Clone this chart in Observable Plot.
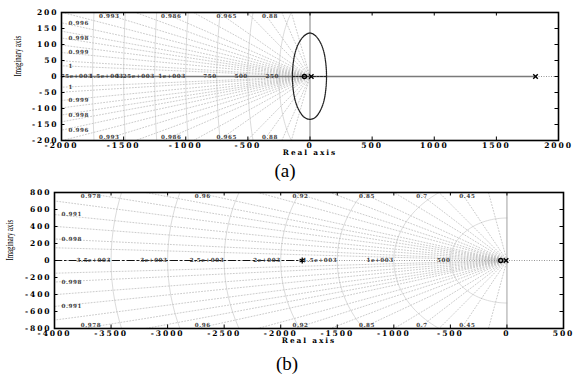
<!DOCTYPE html>
<html><head><meta charset="utf-8">
<script src="https://cdn.jsdelivr.net/npm/d3@7"></script>
<script src="https://cdn.jsdelivr.net/npm/@observablehq/plot@0.6"></script>
<style>
body{margin:0;background:#fff;}
#wrap{position:relative;width:574px;height:377px;overflow:hidden;background:#fff;}
.panel{position:absolute;left:0;}
.cap{position:absolute;left:0;width:574px;text-align:center;font-family:"Liberation Serif",serif;font-size:19px;line-height:19px;color:#000;}
</style>
</head><body><div id="wrap"></div>
<script>
// ---------- Panel (a) ----------
const xTicksA = [-2000, -1500, -1000, -500, 0, 500, 1000, 1500, 2000];
const yTicksA = [-200, -150, -100, -50, 0, 50, 100, 150, 200];
const wnA = [250, 500, 750, 1000, 1250, 1500, 1750];
const wnLabelsA = ["250", "500", "750", "1e+003", "1.25e+003", "1.5e+003", "1.75e+003"];
const zetaGridA = [0.6, 0.75, 0.88, 0.93, 0.965, 0.978, 0.986, 0.99, 0.993, 0.995, 0.9965, 0.9975, 0.9982, 0.9988, 0.9993, 0.9997, 0.99986];
const zetaEdgeA = [0.88, 0.965, 0.986, 0.993];
const zetaEdgeLabelsA = ["0.88", "0.965", "0.986", "0.993"];
const zetaSideA = [0.9965, 0.9982, 0.9993, 0.99986];
const zetaSideLabelsA = ["0.996", "0.998", "0.999", "1"];
const ellipseX = [0, 42, 78, 108, 126, 133, 126, 108, 78, 42, 0, -44, -82, -114, -134, -141, -134, -114, -82, -44];
const ellipseY = [136, 128, 110, 82, 45, 0, -45, -82, -110, -128, -134, -128, -110, -82, -45, 0, 45, 82, 110, 128];
const realBranchA = [-2000, 1815];
const realSegA = [-141, 133];
const polesA = [10, 1815];
const zerosA = [-45];

// ---------- Panel (b) ----------
const xTicksB = [-4000, -3500, -3000, -2500, -2000, -1500, -1000, -500, 0, 500];
const yTicksB = [-800, -600, -400, -200, 0, 200, 400, 600, 800];
const wnB = [500, 1000, 1500, 2000, 2500, 3000, 3500];
const wnLabelsB = ["500", "1e+003", "1.5e+003", "2e+003", "2.5e+003", "3e+003", "3.5e+003"];
const zetaGridB = [0.2, 0.45, 0.6, 0.7, 0.78, 0.85, 0.89, 0.92, 0.94, 0.96, 0.97, 0.978, 0.985, 0.991, 0.995, 0.998, 0.9993];
const zetaEdgeB = [0.45, 0.7, 0.85, 0.92, 0.96, 0.978];
const zetaEdgeLabelsB = ["0.45", "0.7", "0.85", "0.92", "0.96", "0.978"];
const zetaSideB = [0.991, 0.998];
const zetaSideLabelsB = ["0.991", "0.998"];
const branchB = [-4000, -1810];
const starsB = [-1810];
const polesB = [-8];
const zerosB = [-55];

function panel(o) {
  const W = 574;
  const fw = W - o.ml - o.mr, fh = o.h - o.mt - o.mb;
  const R = 1e5;
  const xmin = o.xd[0], ymax = o.yd[1];
  const zetaLines = o.zetaGrid.flatMap((z, i) => {
    const s = Math.sqrt(1 - z * z);
    return [
      {x: 0, y: 0, k: "u" + i}, {x: -R * z, y: R * s, k: "u" + i},
      {x: 0, y: 0, k: "d" + i}, {x: -R * z, y: -R * s, k: "d" + i}
    ];
  });
  const arcs = o.wn.flatMap(r => d3.range(0, 91).map(i => {
    const a = Math.PI / 2 + i * Math.PI / 90;
    return {x: r * Math.cos(a), y: r * Math.sin(a), r};
  }));
  const edgeLab = o.zetaEdge.flatMap((z, i) => {
    const t = Math.sqrt(1 - z * z) / z;
    return [{x: -ymax / t, y: ymax, s: o.zetaEdgeLabels[i], top: true},
            {x: -ymax / t, y: -ymax, s: o.zetaEdgeLabels[i], top: false}];
  });
  const sideLab = o.zetaSide.flatMap((z, i) => {
    const t = Math.sqrt(1 - z * z) / z;
    return [{x: xmin, y: -xmin * t, s: o.zetaSideLabels[i]},
            {x: xmin, y: xmin * t, s: o.zetaSideLabels[i]}];
  });
  const wnLab = o.wn.map((r, i) => ({x: -r, y: 0, s: o.wnLabels[i]}));
  const gl = {fontSize: 5.6, fill: "#3a3a3a", ariaDescription: "grid"};

  const svg = Plot.plot({
    width: W, height: o.h,
    marginTop: o.mt, marginBottom: o.mb, marginLeft: o.ml, marginRight: o.mr,
    x: {domain: o.xd, ticks: o.xTicks, tickFormat: d => String(d), tickSize: 0, tickPadding: 2, label: null},
    y: {domain: o.yd, ticks: o.yTicks, tickFormat: d => String(d), tickSize: 0, tickPadding: 3, label: null},
    style: {fontFamily: "DejaVu Serif", fontSize: "7.6px", fontWeight: "bold", letterSpacing: "1.9px", background: "white", color: "#000"},
    marks: [
      Plot.line(arcs, {x: "x", y: "y", z: "r", stroke: "#d2d2d2", strokeWidth: 0.8, clip: true}),
      Plot.line(zetaLines, {x: "x", y: "y", z: "k", stroke: "#b4b4b4", strokeWidth: 0.7, strokeDasharray: "1,2", clip: true}),
      Plot.ruleY([0], {stroke: "#8a8a8a", strokeWidth: 0.9, strokeDasharray: "1,1.5"}),
      Plot.ruleX([0], {stroke: o.vColor, strokeWidth: 1.1}),
      ...o.extra,
      Plot.text(edgeLab.filter(d => d.top), {x: "x", y: "y", text: "s", textAnchor: "start", lineAnchor: "top", dx: -2, dy: 1.5, ...gl}),
      Plot.text(edgeLab.filter(d => !d.top), {x: "x", y: "y", text: "s", textAnchor: "start", lineAnchor: "bottom", dx: -2, dy: -1.5, ...gl}),
      Plot.text(sideLab, {x: "x", y: "y", text: "s", textAnchor: "start", lineAnchor: "middle", dx: 7, ...gl}),
      Plot.text(wnLab, {x: "x", y: "y", text: "s", textAnchor: "end", lineAnchor: "bottom", dy: 1, clip: true, ...gl}),
      Plot.ruleX(o.xTicks, {insetBottom: fh - 3.5, stroke: "#000"}),
      Plot.ruleX(o.xTicks, {insetTop: fh - 3.5, stroke: "#000"}),
      Plot.ruleY(o.yTicks, {insetRight: fw - 3.5, stroke: "#000"}),
      Plot.ruleY(o.yTicks, {insetLeft: fw - 3.5, stroke: "#000"}),
      Plot.frame({stroke: "#000", strokeWidth: 1.6}),
      Plot.text(["Real axis"], {frameAnchor: "bottom", text: d => d, lineAnchor: "top", dy: o.realDy, fontSize: 7.4}),
      Plot.text(["Imaginary axis"], {frameAnchor: "left", text: d => d, rotate: -90, dx: o.imDx, fontWeight: "normal", fontFamily: "Liberation Serif", fontSize: 8.5, ariaDescription: "ylab"})
    ]
  });
  svg.querySelectorAll('g[aria-description="grid"]').forEach(g => { g.style.letterSpacing = "0.6px"; });
  svg.querySelectorAll('g[aria-description="ylab"]').forEach(g => {
    g.style.letterSpacing = "0px";
    g.querySelectorAll("text").forEach(t => {
      const tr = t.getAttribute("transform") || "";
      t.setAttribute("transform", tr + " scale(0.8,1.15)");
    });
  });
  return svg;
}

const ellipse = ellipseX.map((x, i) => ({x, y: ellipseY[i]}));

const svgA = panel({
  h: 180, mt: 12, mb: 40, ml: 61, mr: 16,
  xd: [-2000, 2000], yd: [-200, 200], xTicks: xTicksA, yTicks: yTicksA,
  wn: wnA, wnLabels: wnLabelsA, zetaGrid: zetaGridA,
  zetaEdge: zetaEdgeA, zetaEdgeLabels: zetaEdgeLabelsA,
  zetaSide: zetaSideA, zetaSideLabels: zetaSideLabelsA,
  vColor: "#8a8a8a", realDy: 9.5, imDx: -44,
  extra: [
    Plot.line(realBranchA.map(x => ({x, y: 0})), {x: "x", y: "y", stroke: "#7a7a7a", strokeWidth: 1.6}),
    Plot.line(realSegA.map(x => ({x, y: 0})), {x: "x", y: "y", stroke: "#222", strokeWidth: 1.2, strokeDasharray: "2,1.5"}),
    Plot.line(ellipse, {x: "x", y: "y", curve: "catmull-rom-closed", stroke: "#222", strokeWidth: 1.3, strokeDasharray: "1,0.9"}),
    Plot.dot(zerosA, {x: d => d, y: () => 0, r: 2, stroke: "#000", strokeWidth: 1.4, fill: "none"}),
    Plot.dot(polesA, {x: d => d, y: () => 0, r: 2.2, symbol: "times", stroke: "#000", strokeWidth: 1.4})
  ]
});

const svgB = panel({
  h: 197, mt: 12, mb: 49, ml: 54, mr: 11,
  xd: [-4000, 500], yd: [-800, 800], xTicks: xTicksB, yTicks: yTicksB,
  wn: wnB, wnLabels: wnLabelsB, zetaGrid: zetaGridB,
  zetaEdge: zetaEdgeB, zetaEdgeLabels: zetaEdgeLabelsB,
  zetaSide: zetaSideB, zetaSideLabels: zetaSideLabelsB,
  vColor: "#a8a8a8", realDy: 9.5, imDx: -45,
  extra: [
    Plot.line(branchB.map(x => ({x, y: 0})), {x: "x", y: "y", stroke: "#111", strokeWidth: 1.2, strokeDasharray: "7,3,1.5,3"}),
    Plot.dot(starsB, {x: d => d, y: () => 0, r: 2.8, symbol: "asterisk", stroke: "#000", strokeWidth: 1.3}),
    Plot.dot(zerosB, {x: d => d, y: () => 0, r: 2, stroke: "#000", strokeWidth: 1.4, fill: "none"}),
    Plot.dot(polesB, {x: d => d, y: () => 0, r: 2.2, symbol: "times", stroke: "#000", strokeWidth: 1.4})
  ]
});

const wrap = document.getElementById("wrap");
const pa = document.createElement("div"); pa.className = "panel"; pa.style.top = "0px"; pa.appendChild(svgA);
const pb = document.createElement("div"); pb.className = "panel"; pb.style.top = "180px"; pb.appendChild(svgB);
wrap.appendChild(pa); wrap.appendChild(pb);
const ca = document.createElement("div"); ca.className = "cap"; ca.style.top = "161px"; ca.style.left = "-2px"; ca.textContent = "(a)";
const cb = document.createElement("div"); cb.className = "cap"; cb.style.top = "354px"; cb.textContent = "(b)";
wrap.appendChild(ca); wrap.appendChild(cb);
</script>
</body></html>
